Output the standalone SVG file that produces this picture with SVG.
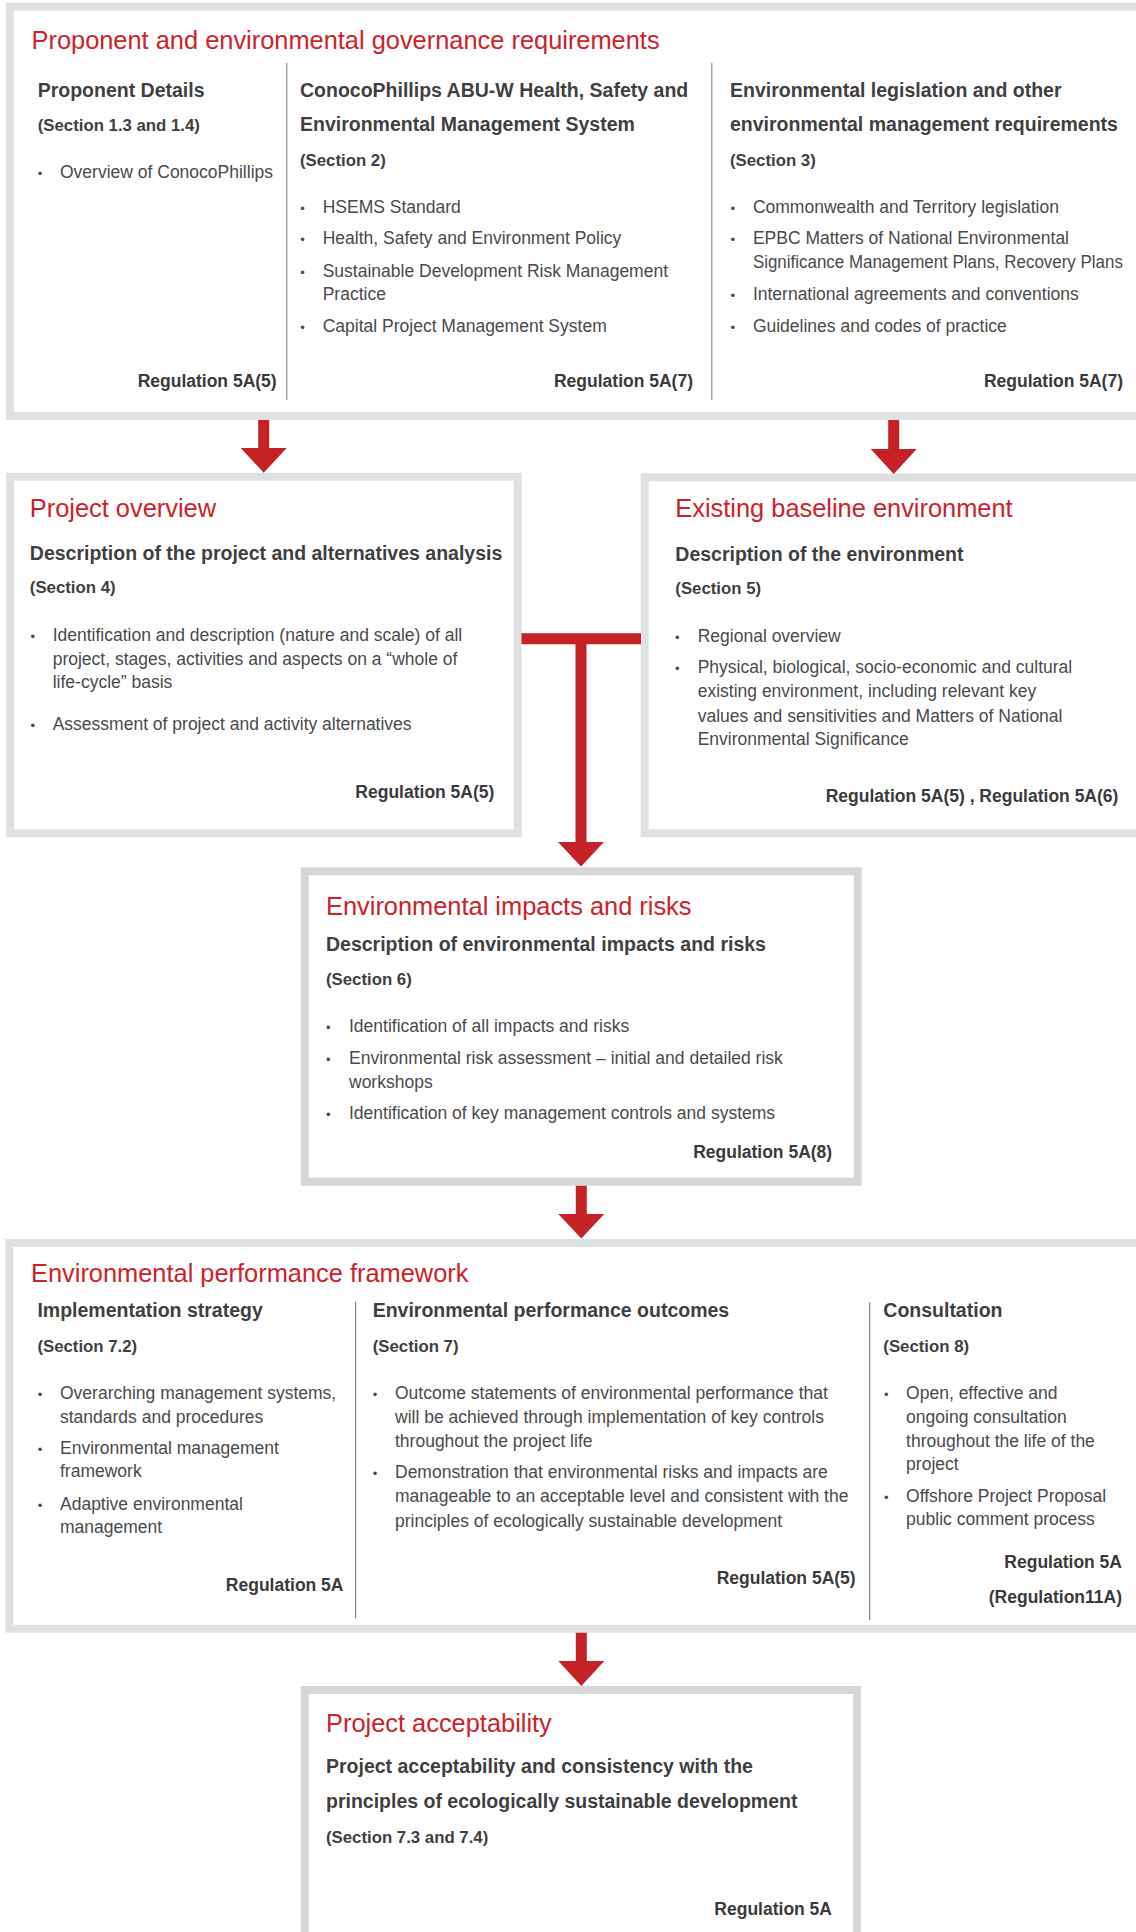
<svg xmlns="http://www.w3.org/2000/svg" width="1136" height="1932" viewBox="0 0 1136 1932">
<style>
text{font-family:"Liberation Sans",Arial,sans-serif}
.ttl{font-size:25.4px;fill:#cc2229}
.hd{font-size:19.5px;font-weight:bold;fill:#3f3f41}
.sec{font-size:16.8px;font-weight:bold;fill:#3f3f41}
.bd{font-size:17.5px;fill:#4a4a4c}
.bl{font-size:13px;fill:#4a4a4c;text-anchor:middle}
.reg{font-size:17.5px;font-weight:bold;fill:#3a3a3c;text-anchor:end}
.box{fill:#fff;stroke:#dee1e2;stroke-width:8}
.box2{fill:#fff;stroke:#d5d6d8;stroke-width:8}
.div1{stroke:#a6aaad;stroke-width:1.6}
.div2{stroke:#73777a;stroke-width:1.1}
.arw{fill:#c52228}
.bar{stroke:#c52228;stroke-width:11;fill:none}
</style>

<g id="governance">
<rect class="box" x="10" y="6.5" width="1150" height="409.5"/>
<text class="ttl" x="31.5" y="49">Proponent and environmental governance requirements</text>
<line class="div1" x1="286.7" y1="62.7" x2="286.7" y2="400"/>
<line class="div1" x1="711.7" y1="62.7" x2="711.7" y2="400"/>
<text class="hd" x="37.7" y="97">Proponent Details</text>
<text class="sec" x="37.7" y="131">(Section 1.3 and 1.4)</text>
<text class="bl" x="40" y="178">•</text>
<text class="bd" x="60" y="178">Overview of ConocoPhillips</text>
<text class="reg" x="276.7" y="387">Regulation 5A(5)</text>

<text class="hd" x="300" y="97">ConocoPhillips ABU-W Health, Safety and</text>
<text class="hd" x="300" y="130.7">Environmental Management System</text>
<text class="sec" x="300" y="166">(Section 2)</text>
<text class="bl" x="302.5" y="213.3">•</text>
<text class="bd" x="322.7" y="213.3">HSEMS Standard</text>
<text class="bl" x="302.5" y="244.3">•</text>
<text class="bd" x="322.7" y="244.3">Health, Safety and Environment Policy</text>
<text class="bl" x="302.5" y="276.7">•</text>
<text class="bd" x="322.7" y="276.7">Sustainable Development Risk Management</text>
<text class="bd" x="322.7" y="300">Practice</text>
<text class="bl" x="302.5" y="331.7">•</text>
<text class="bd" x="322.7" y="331.7">Capital Project Management System</text>
<text class="reg" x="693" y="387">Regulation 5A(7)</text>

<text class="hd" x="730" y="97">Environmental legislation and other</text>
<text class="hd" x="730" y="130.7">environmental management requirements</text>
<text class="sec" x="730" y="166">(Section 3)</text>
<text class="bl" x="732.7" y="213.3">•</text>
<text class="bd" x="752.9" y="213.3">Commonwealth and Territory legislation</text>
<text class="bl" x="732.7" y="244.3">•</text>
<text class="bd" x="752.9" y="244.3">EPBC Matters of National Environmental</text>
<text class="bd" x="752.9" y="268.3" textLength="370" lengthAdjust="spacingAndGlyphs">Significance Management Plans, Recovery Plans</text>
<text class="bl" x="732.7" y="300">•</text>
<text class="bd" x="752.9" y="300">International agreements and conventions</text>
<text class="bl" x="732.7" y="331.7">•</text>
<text class="bd" x="752.9" y="331.7">Guidelines and codes of practice</text>
<text class="reg" x="1123" y="387">Regulation 5A(7)</text>
</g>

<g id="project-overview">
<rect class="box" x="10.2" y="476.7" width="507.5" height="356.6"/>
<text class="ttl" x="29.8" y="517.3">Project overview</text>
<text class="hd" x="29.8" y="560">Description of the project and alternatives analysis</text>
<text class="sec" x="29.8" y="593.3">(Section 4)</text>
<text class="bl" x="32.7" y="640.7">•</text>
<text class="bd" x="52.7" y="640.7">Identification and description (nature and scale) of all</text>
<text class="bd" x="52.7" y="665">project, stages, activities and aspects on a “whole of</text>
<text class="bd" x="52.7" y="688.3">life-cycle” basis</text>
<text class="bl" x="32.7" y="730">•</text>
<text class="bd" x="52.7" y="730">Assessment of project and activity alternatives</text>
<text class="reg" x="494.4" y="798.3">Regulation 5A(5)</text>
</g>

<g id="baseline-environment">
<rect class="box" x="644.7" y="477.3" width="520" height="356"/>
<text class="ttl" x="675.3" y="517.3">Existing baseline environment</text>
<text class="hd" x="675.3" y="560.7">Description of the environment</text>
<text class="sec" x="675.3" y="594">(Section 5)</text>
<text class="bl" x="677.3" y="641.7">•</text>
<text class="bd" x="697.7" y="641.7">Regional overview</text>
<text class="bl" x="677.3" y="673.3">•</text>
<text class="bd" x="697.7" y="673.3">Physical, biological, socio-economic and cultural</text>
<text class="bd" x="697.7" y="697.3">existing environment, including relevant key</text>
<text class="bd" x="697.7" y="721.7">values and sensitivities and Matters of National</text>
<text class="bd" x="697.7" y="745">Environmental Significance</text>
<text class="reg" x="1118.4" y="801.7">Regulation 5A(5) , Regulation 5A(6)</text>
</g>

<g id="impacts-risks">
<rect class="box2" x="304.7" y="871.3" width="553" height="310.4"/>
<text class="ttl" x="326" y="915">Environmental impacts and risks</text>
<text class="hd" x="326" y="950.7">Description of environmental impacts and risks</text>
<text class="sec" x="326" y="985">(Section 6)</text>
<text class="bl" x="328.3" y="1032.3">•</text>
<text class="bd" x="349" y="1032.3">Identification of all impacts and risks</text>
<text class="bl" x="328.3" y="1064.3">•</text>
<text class="bd" x="349" y="1064.3">Environmental risk assessment – initial and detailed risk</text>
<text class="bd" x="349" y="1088.3">workshops</text>
<text class="bl" x="328.3" y="1119.3">•</text>
<text class="bd" x="349" y="1119.3">Identification of key management controls and systems</text>
<text class="reg" x="832.2" y="1158.3">Regulation 5A(8)</text>
</g>

<g id="performance-framework">
<rect class="box" x="9.5" y="1243" width="1150" height="385.7"/>
<text class="ttl" x="31" y="1281.7">Environmental performance framework</text>
<line class="div2" x1="355.6" y1="1301.7" x2="355.6" y2="1618.3"/>
<line class="div2" x1="869.7" y1="1302.5" x2="869.7" y2="1620"/>
<text class="hd" x="37.4" y="1316.7">Implementation strategy</text>
<text class="sec" x="37.4" y="1351.7">(Section 7.2)</text>
<text class="bl" x="40" y="1399.3">•</text>
<text class="bd" x="60" y="1399.3">Overarching management systems,</text>
<text class="bd" x="60" y="1422.7">standards and procedures</text>
<text class="bl" x="40" y="1454">•</text>
<text class="bd" x="60" y="1454">Environmental management</text>
<text class="bd" x="60" y="1477.3">framework</text>
<text class="bl" x="40" y="1510">•</text>
<text class="bd" x="60" y="1510">Adaptive environmental</text>
<text class="bd" x="60" y="1533.3">management</text>
<text class="reg" x="343.5" y="1590.7">Regulation 5A</text>

<text class="hd" x="372.7" y="1316.7">Environmental performance outcomes</text>
<text class="sec" x="372.7" y="1351.7">(Section 7)</text>
<text class="bl" x="375" y="1399.3">•</text>
<text class="bd" x="395" y="1399.3">Outcome statements of environmental performance that</text>
<text class="bd" x="395" y="1422.7">will be achieved through implementation of key controls</text>
<text class="bd" x="395" y="1446.7">throughout the project life</text>
<text class="bl" x="375" y="1478.3">•</text>
<text class="bd" x="395" y="1478.3">Demonstration that environmental risks and impacts are</text>
<text class="bd" x="395" y="1501.7">manageable to an acceptable level and consistent with the</text>
<text class="bd" x="395" y="1526.7">principles of ecologically sustainable development</text>
<text class="reg" x="855.7" y="1584">Regulation 5A(5)</text>

<text class="hd" x="883.3" y="1316.7">Consultation</text>
<text class="sec" x="883.3" y="1351.7">(Section 8)</text>
<text class="bl" x="886.2" y="1399.3">•</text>
<text class="bd" x="906.1" y="1399.3">Open, effective and</text>
<text class="bd" x="906.1" y="1422.7">ongoing consultation</text>
<text class="bd" x="906.1" y="1446.7">throughout the life of the</text>
<text class="bd" x="906.1" y="1470">project</text>
<text class="bl" x="886.2" y="1501.7">•</text>
<text class="bd" x="906.1" y="1501.7">Offshore Project Proposal</text>
<text class="bd" x="906.1" y="1525">public comment process</text>
<text class="reg" x="1122" y="1568.3">Regulation 5A</text>
<text class="reg" x="1122" y="1603.3">(Regulation11A)</text>
</g>

<g id="project-acceptability">
<rect class="box2" x="304.7" y="1690" width="552.3" height="320"/>
<text class="ttl" x="326" y="1731.7">Project acceptability</text>
<text class="hd" x="326" y="1772.7">Project acceptability and consistency with the</text>
<text class="hd" x="326" y="1808.3">principles of ecologically sustainable development</text>
<text class="sec" x="326" y="1842.7">(Section 7.3 and 7.4)</text>
<text class="reg" x="832" y="1915">Regulation 5A</text>
</g>

<g id="connectors">
<polygon class="arw" points="258.2,420 269.2,420 269.2,448 286.7,448 263.7,472.7 240.7,448 258.2,448"/>
<polygon class="arw" points="888.2,420 899.2,420 899.2,449 916.7,449 893.7,474 870.7,449 888.2,449"/>
<path class="bar" d="M521.5,638.7 H641 M581,638.7 V842.5"/>
<polygon class="arw" points="558,842 604,842 581,866.5"/>
<polygon class="arw" points="575.8,1185.7 586.8,1185.7 586.8,1214 604.3,1214 581.3,1238.5 558.3,1214 575.8,1214"/>
<polygon class="arw" points="575.8,1632.7 586.8,1632.7 586.8,1661 604.3,1661 581.3,1686 558.3,1661 575.8,1661"/>
</g>
</svg>
